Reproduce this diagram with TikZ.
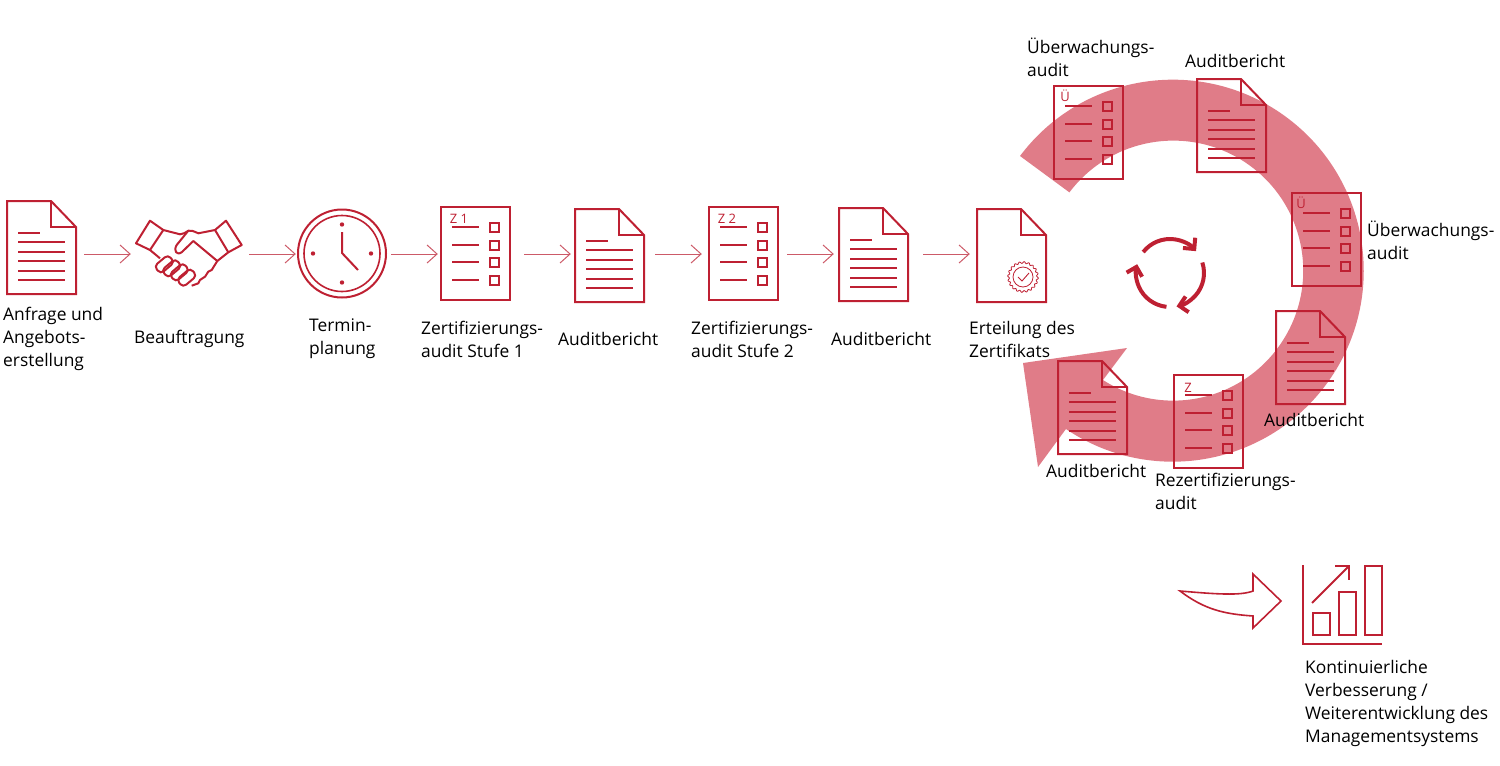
\documentclass[tikz,border=0pt]{standalone}
\usepackage{fontspec}
\setmainfont{Open Sans}
\usetikzlibrary{arrows.meta}
\definecolor{auditred}{HTML}{BE2032}
\definecolor{flowred}{HTML}{CC5A68}
\definecolor{bandred}{HTML}{E07C88}
\tikzset{
  icon/.style={draw=auditred,line width=2pt,line join=miter},
  flow/.style={draw=flowred,line width=1pt,-{Straight Barb[length=10pt,width=18pt]}},
  station/.style={minimum width=#1,minimum height=60pt,inner sep=0pt},
  caption/.style={anchor=west,align=left,font=\fontsize{17.4}{23}\selectfont,inner sep=0pt,text=black,yshift=-0.5pt},
  kreis/.style={auditred,line width=4pt,-{Straight Barb[length=8pt,width=16pt]}},
  berichtdoc/.pic={
    \draw[icon] (0,0) -- (44,0) -- (69,26) -- (69,93) -- (0,93) -- cycle;
    \draw[icon] (44,0) -- (44,26) -- (69,26);
    \draw[icon] (11,32) -- (33,32);
    \foreach \zeile in {41,50.5,60,69.5,79}
      \draw[icon] (11,\zeile) -- (58,\zeile);
  },
  checkliste/.pic={
    \draw[icon] (0,0) rectangle (69,93);
    \foreach \zeile in {20,38,55,73}{
      \draw[icon] (11,\zeile) -- (38,\zeile);
      \draw[icon] (48.5,\zeile-4.5) rectangle (57.5,\zeile+4.5);
    }
    \node[text=auditred,font=\fontsize{13}{13}\selectfont,inner sep=0pt] (-marke) at (#1) {\tikzpictext};
  }
}
\begin{document}
\begin{tikzpicture}[x=1pt,y=-1pt]
\useasboundingbox (0,0) rectangle (1500,766);
% grosser Pfeil
\fill[bandred] (1020,156) arc[start angle=-143.1,end angle=124,radius=191]
  -- (1038,467) -- (1023,363) -- (1127,348) -- (1103,380)
  arc[start angle=122.7,end angle=-143,radius=130] -- cycle;
% Stationen
\node[station=77pt] (anfrage) at (45.5,254) {};
\node[station=118pt] (auftrag) at (190,254) {};
\node[station=95pt] (termin) at (343.5,254) {};
\node[station=86pt] (zfa) at (481,254) {};
\node[station=84pt] (berichta) at (613,254) {};
\node[station=85pt] (zfb) at (744.5,254) {};
\node[station=89pt] (berichtb) at (878.5,254) {};
\node[station=80pt] (zertifikat) at (1010,254) {};
\draw[flow] (anfrage.east) -- (auftrag.west);
\draw[flow] (auftrag.east) -- (termin.west);
\draw[flow] (termin.east) -- (zfa.west);
\draw[flow] (zfa.east) -- (berichta.west);
\draw[flow] (berichta.east) -- (zfb.west);
\draw[flow] (zfb.east) -- (berichtb.west);
\draw[flow] (berichtb.east) -- (zertifikat.west);
% Dokumente
\pic at (7,201) {berichtdoc};
\pic at (575,209) {berichtdoc};
\pic at (839,208) {berichtdoc};
\pic at (1197,79) {berichtdoc};
\pic at (1276,311) {berichtdoc};
\pic at (1058,361) {berichtdoc};
\pic[pic text={Z 1}] at (441,207) {checkliste={18,12}};
\pic[pic text={Z 2}] at (709,207) {checkliste={18,12}};
\pic[pic text={Ü}] at (1054,86) {checkliste={11,10}};
\pic[pic text={Ü}] at (1292,193) {checkliste={9,10}};
\pic[pic text={Z}] at (1174,375) {checkliste={14,13}};
% Zertifikat
\draw[icon] (977,209) -- (1021,209) -- (1046,235) -- (1046,302) -- (977,302) -- cycle;
\draw[icon] (1021,209) -- (1021,235) -- (1046,235);
\draw[auditred,line width=0.8pt] plot[domain=0:360,samples=145,smooth]
  ({1023+(14.5+0.9*sin(20*\x))*cos(\x)},{277+(14.5+0.9*sin(20*\x))*sin(\x)});
\draw[auditred,line width=0.8pt] (1023,277) circle[radius=10];
\draw[auditred,line width=0.9pt] (1018,277) -- (1022,281) -- (1029,273);
% Uhr
\draw[icon] (342,253.5) circle[radius=44];
\draw[icon,line width=1.6pt] (342,253.5) circle[radius=38];
\draw[icon] (342,232) -- (342,253) -- (358,270);
\foreach \winkel in {0,90,180,270}
  \fill[auditred] (342,253.5) ++(\winkel:29) circle[radius=2.2];
% Haendedruck
\draw[icon,line join=round] (150,220.7) -- (163.3,230) -- (150,250) -- (136,243.3) -- cycle;
\draw[icon,line join=round] (226,220.7) -- (241.7,245) -- (228.3,252.3) -- (215,230) -- cycle;
\draw[icon,line join=round] (163.3,230) -- (180,234.3) .. controls (184,233.5) .. (188.3,230.7) .. controls (192,230.5) .. (198.3,233.3) -- (215,230);
\draw[icon,line join=round] (188.3,230.7) -- (176.7,245) .. controls (173,251) and (177,256) .. (182,252) -- (193.3,241) -- (217.3,261);
\draw[icon,line join=round] (228.3,252.3) -- (217.3,261) -- (211.7,270) -- (208.3,271.7) -- (205,276.7) -- (200,280) -- (198.3,283.3) -- (191.7,285.7);
\draw[icon,line join=round] (150,250) -- (160,258.3);
\foreach \fx/\fy in {164.3/264.3,171.7/268.3,179.3/272.3,186.7/277.7}
  \draw[icon,rounded corners=4pt,shift={(\fx,\fy)},rotate=40] (-9,-5) rectangle (9,5);
% Kreislauf
\draw[kreis] (1170,273) ++(-142:34) arc[start angle=-142,end angle=-40,radius=34];
\draw[kreis] (1170,273) ++(-18:34) arc[start angle=-18,end angle=79,radius=34];
\draw[kreis] (1170,273) ++(96:34) arc[start angle=96,end angle=195,radius=34];
% Verbesserung
\draw[icon,line width=1.6pt] (1180,591) .. controls (1215,594) and (1240,596) .. (1253,591) -- (1253,574) -- (1281,601) -- (1253,628) -- (1253,616) .. controls (1225,614) and (1205,610) .. cycle;
\draw[icon] (1303,565) -- (1303,644) -- (1382,644);
\draw[icon] (1313,613) rectangle (1330,635);
\draw[icon] (1339,592) rectangle (1356,635);
\draw[icon] (1365,566) rectangle (1382,635);
\draw[icon] (1312,603) -- (1349,566);
\draw[icon] (1335,566) -- (1349,566) -- (1349,580);
% Texte
\node[caption] (tanfrage) at (3,338) {Anfrage und\\Angebots-\\erstellung};
\node[caption] (tauftrag) at (134,338) {Beauftragung};
\node[caption] (ttermin) at (309,338.5) {Termin-\\planung};
\node[caption] (tzfa) at (421,339) {Zertifizierungs-\\audit Stufe 1};
\node[caption] (tberichta) at (558,338) {Auditbericht};
\node[caption] (tzfb) at (691,339) {Zertifizierungs-\\audit Stufe 2};
\node[caption] (tberichtb) at (831,338) {Auditbericht};
\node[caption] (tzertifikat) at (969,338.5) {Erteilung des\\Zertifikats};
\node[caption] (tueberw) at (1027,57) {Überwachungs-\\audit};
\node[caption] (tberichtc) at (1185,60) {Auditbericht};
\node[caption] (tueberwb) at (1367,239.5) {Überwachungs-\\audit};
\node[caption] (tberichtd) at (1264,419) {Auditbericht};
\node[caption] (tberichte) at (1046,470) {Auditbericht};
\node[caption] (trezert) at (1155,491) {Rezertifizierungs-\\audit};
\node[caption] (tverbess) at (1305,702.5) {Kontinuierliche\\Verbesserung /\\Weiterentwicklung des\\Managementsystems};
\end{tikzpicture}
\end{document}
